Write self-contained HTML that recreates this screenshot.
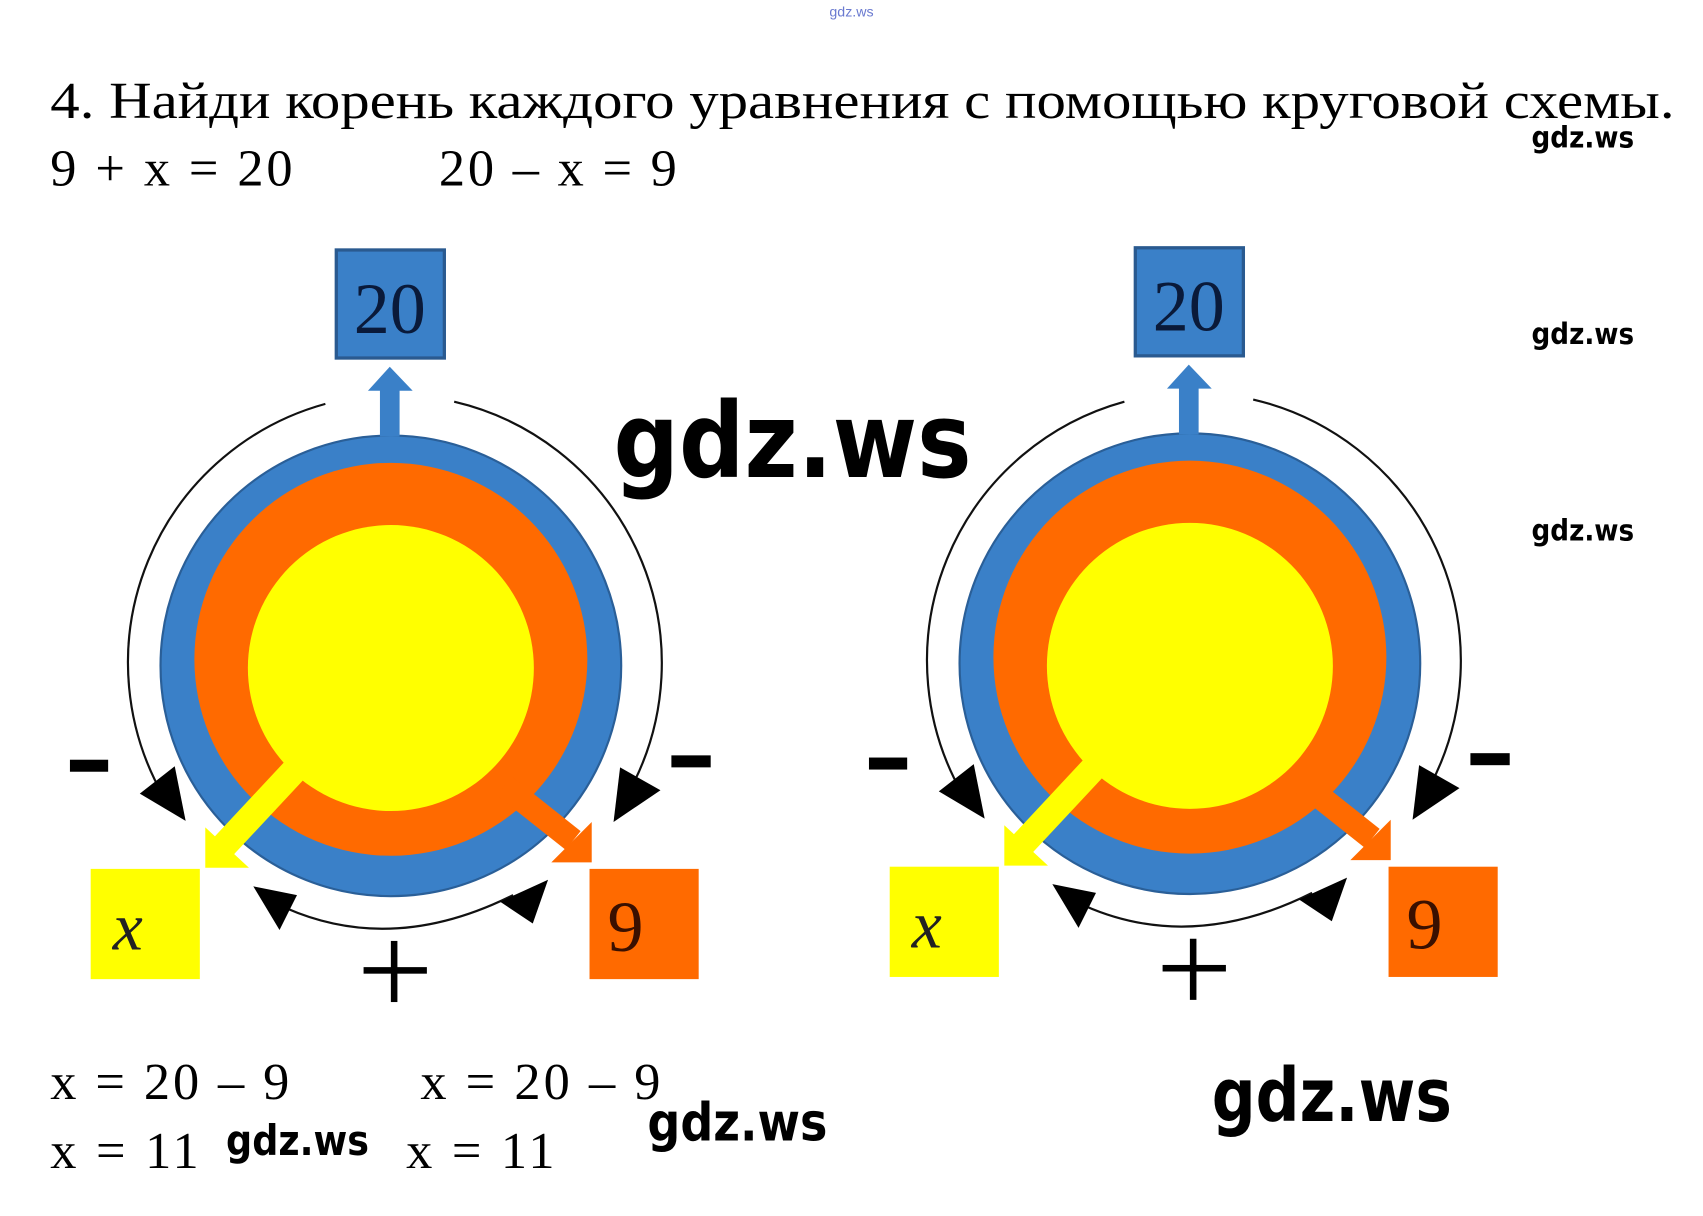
<!DOCTYPE html>
<html><head><meta charset="utf-8"><style>
html,body{margin:0;padding:0;background:#fff;}
svg{display:block;}
.serif{font-family:"Liberation Serif",serif;}
.wm{font-family:"DejaVu Sans","Liberation Sans",sans-serif;font-weight:bold;fill:#000;}
</style></head><body>
<svg width="1703" height="1216" viewBox="0 0 1560 1114" xmlns="http://www.w3.org/2000/svg">
<defs>
<g id="dia">
  <path d="M298,370 A246,246 0 0 0 150,730" fill="none" stroke="#111" stroke-width="2"/>
  <path d="M416,368 A246,246 0 0 1 578,722" fill="none" stroke="#111" stroke-width="2"/>
  <path d="M262,832 Q360,875 470,820" fill="none" stroke="#111" stroke-width="2"/>
  <polygon points="128,727 160,702 170,752" fill="#000"/>
  <polygon points="562,753 568,703 605,724" fill="#000"/>
  <polygon points="232,812 272,820 256,852" fill="#000"/>
  <polygon points="502,806 488,846 458,826" fill="#000"/>
  <circle cx="358" cy="610" r="211" fill="#3a80c8" stroke="#2a5f98" stroke-width="2"/>
  <circle cx="358" cy="604" r="180" fill="#ff6a00"/>
  <circle cx="358" cy="612" r="131" fill="#ffff00"/>
  <rect x="348" y="352" width="18" height="48" fill="#3a80c8"/>
  <polygon points="337,358 357,336 378,358" fill="#3a80c8"/>
  <line x1="275" y1="700" x2="205" y2="775" stroke="#ffff00" stroke-width="24"/>
  <polygon points="188,758 188,795 228,795" fill="#ffff00"/>
  <line x1="462" y1="720" x2="525" y2="770" stroke="#ff6a00" stroke-width="22"/>
  <polygon points="542,753 542,790 505,790" fill="#ff6a00"/>
  <rect x="308" y="229" width="99" height="99" fill="#3a80c8" stroke="#2a5a90" stroke-width="3"/>
  <text x="357" y="305" text-anchor="middle" class="serif" font-size="66" fill="#0a1a3a">20</text>
  <rect x="83" y="796" width="100" height="101" fill="#ffff00"/>
  <text x="117" y="870" text-anchor="middle" class="serif" font-size="62" font-style="italic" fill="#222">x</text>
  <rect x="540" y="796" width="100" height="101" fill="#ff6a00"/>
  <text x="573" y="871" text-anchor="middle" class="serif" font-size="66" fill="#3a1000">9</text>
  <rect x="64" y="696" width="35" height="11" fill="#000"/>
  <rect x="615" y="692" width="36" height="11" fill="#000"/>
  <rect x="333" y="886" width="58" height="6" fill="#000"/>
  <rect x="358" y="862" width="6" height="56" fill="#000"/>
</g>
</defs>
<text x="780" y="15" text-anchor="middle" font-family="Liberation Sans,sans-serif" font-size="13" fill="#6a7ad0">gdz.ws</text>
<text x="46" y="108" class="serif" font-size="48" fill="#000" textLength="1488" lengthAdjust="spacingAndGlyphs">4. Найди корень каждого уравнения с помощью круговой схемы.</text>
<text x="46" y="170" class="serif" font-size="48" fill="#000" textLength="222" lengthAdjust="spacing">9 + x = 20</text>
<text x="402" y="170" class="serif" font-size="48" fill="#000" textLength="218" lengthAdjust="spacing">20 – x = 9</text>
<text x="1403" y="135" class="wm" font-size="27" textLength="94" lengthAdjust="spacingAndGlyphs">gdz.ws</text>
<text x="1403" y="315" class="wm" font-size="27" textLength="94" lengthAdjust="spacingAndGlyphs">gdz.ws</text>
<text x="1403" y="495" class="wm" font-size="27" textLength="94" lengthAdjust="spacingAndGlyphs">gdz.ws</text>
<use href="#dia"/>
<use href="#dia" transform="translate(732,-2)"/>
<text x="562" y="437" class="wm" font-size="96" textLength="328" lengthAdjust="spacingAndGlyphs">gdz.ws</text>
<text x="1110" y="1027" class="wm" font-size="68" textLength="220" lengthAdjust="spacingAndGlyphs">gdz.ws</text>
<text x="593" y="1045" class="wm" font-size="48" textLength="165" lengthAdjust="spacingAndGlyphs">gdz.ws</text>
<text x="207" y="1058" class="wm" font-size="38" textLength="131" lengthAdjust="spacingAndGlyphs">gdz.ws</text>
<text x="46" y="1007" class="serif" font-size="48" fill="#000" textLength="219" lengthAdjust="spacing">x = 20 – 9</text>
<text x="385" y="1007" class="serif" font-size="48" fill="#000" textLength="220" lengthAdjust="spacing">x = 20 – 9</text>
<text x="46" y="1070" class="serif" font-size="48" fill="#000" textLength="136" lengthAdjust="spacing">x = 11</text>
<text x="372" y="1070" class="serif" font-size="48" fill="#000" textLength="136" lengthAdjust="spacing">x = 11</text>
</svg>
</body></html>
